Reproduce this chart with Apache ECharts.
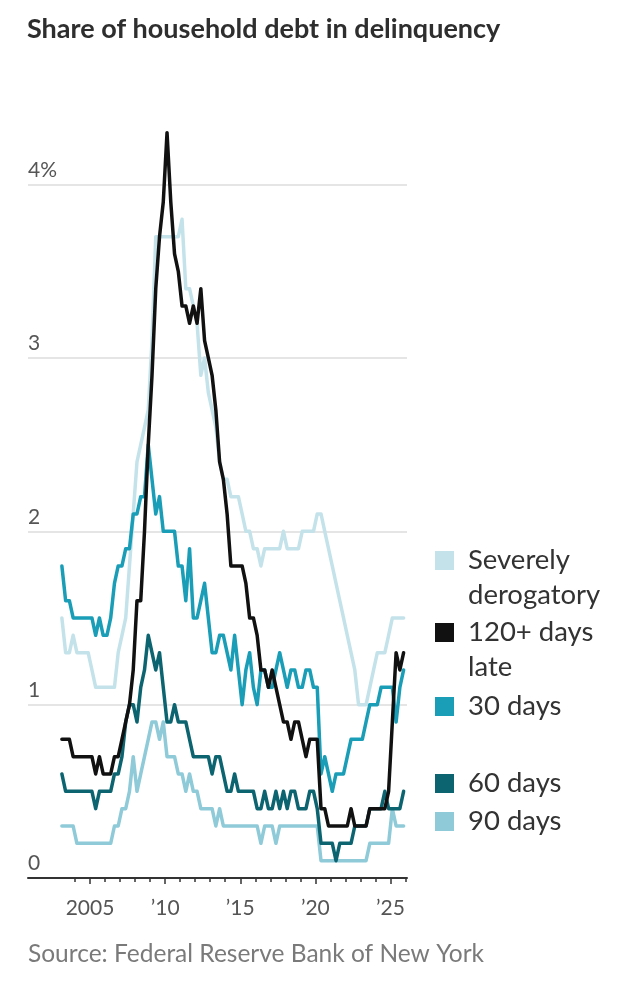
<!DOCTYPE html>
<html lang="en">
<head>
<meta charset="utf-8">
<title>Share of household debt in delinquency</title>
<script src="https://cdn.jsdelivr.net/npm/echarts@6/dist/echarts.min.js"></script>
<style>
  html, body { margin: 0; padding: 0; background: #fff; }
  #chart { width: 630px; height: 984px; }
</style>
</head>
<body>
<div id="chart"></div>
<script>
// quarterly data, 2003Q1 .. 2025Q4, percent of balance
var startYear = 2003;
var quarters = [];
for (var y = startYear; y <= 2025; y++) {
  for (var q = 1; q <= 4; q++) quarters.push(y + 'Q' + q);
}

var severelyDerogatory = [
  1.5, 1.3, 1.3, 1.4, 1.3, 1.3, 1.3, 1.3, 1.2, 1.1, 1.1, 1.1, 1.1, 1.1, 1.1, 1.3,
  1.4, 1.5, 1.8, 2.1, 2.4, 2.5, 2.6, 2.7, 3.1, 3.7, 3.7, 3.7, 3.7, 3.7, 3.7, 3.7,
  3.8, 3.4, 3.4, 3.3, 3.2, 2.9, 3.0, 2.8, 2.7, 2.6, 2.4, 2.3, 2.3, 2.2, 2.2, 2.2,
  2.1, 2.0, 2.0, 1.9, 1.9, 1.8, 1.9, 1.9, 1.9, 1.9, 1.9, 2.0, 1.9, 1.9, 1.9, 1.9,
  2.0, 2.0, 2.0, 2.0, 2.1, 2.1, 2.0, 1.9, 1.8, 1.7, 1.6, 1.5, 1.4, 1.3, 1.2, 1.0,
  1.0, 1.0, 1.1, 1.2, 1.3, 1.3, 1.3, 1.4, 1.5, 1.5, 1.5, 1.5
];
var late120 = [
  0.8, 0.8, 0.8, 0.7, 0.7, 0.7, 0.7, 0.7, 0.7, 0.6, 0.7, 0.6, 0.6, 0.6, 0.7, 0.7,
  0.8, 0.9, 1.0, 1.2, 1.6, 1.6, 2.0, 2.5, 2.9, 3.4, 3.7, 3.9, 4.3, 3.9, 3.6, 3.5,
  3.3, 3.3, 3.2, 3.3, 3.2, 3.4, 3.1, 3.0, 2.9, 2.7, 2.4, 2.3, 2.1, 1.8, 1.8, 1.8,
  1.8, 1.7, 1.5, 1.5, 1.4, 1.2, 1.2, 1.1, 1.2, 1.1, 1.0, 0.9, 0.9, 0.8, 0.9, 0.9,
  0.8, 0.7, 0.8, 0.8, 0.8, 0.4, 0.4, 0.3, 0.3, 0.3, 0.3, 0.3, 0.3, 0.4, 0.3, 0.3,
  0.3, 0.3, 0.4, 0.4, 0.4, 0.4, 0.4, 0.5, 0.9, 1.3, 1.2, 1.3
];
var days30 = [
  1.8, 1.6, 1.6, 1.5, 1.5, 1.5, 1.5, 1.5, 1.5, 1.4, 1.5, 1.4, 1.4, 1.5, 1.7, 1.8,
  1.8, 1.9, 1.9, 2.1, 2.1, 2.2, 2.2, 2.5, 2.3, 2.1, 2.2, 2.0, 2.0, 2.0, 2.0, 1.8,
  1.8, 1.6, 1.9, 1.5, 1.5, 1.6, 1.7, 1.5, 1.3, 1.3, 1.4, 1.4, 1.3, 1.2, 1.4, 1.2,
  1.0, 1.2, 1.3, 1.1, 1.0, 1.2, 1.2, 1.1, 1.1, 1.2, 1.3, 1.2, 1.1, 1.2, 1.2, 1.1,
  1.1, 1.2, 1.2, 1.1, 1.1, 0.6, 0.7, 0.6, 0.5, 0.6, 0.6, 0.6, 0.7, 0.8, 0.8, 0.8,
  0.8, 0.9, 1.0, 1.0, 1.0, 1.1, 1.1, 1.1, 1.1, 0.9, 1.1, 1.2
];
var days60 = [
  0.6, 0.5, 0.5, 0.5, 0.5, 0.5, 0.5, 0.5, 0.5, 0.4, 0.5, 0.5, 0.5, 0.5, 0.6, 0.6,
  0.7, 0.9, 1.0, 1.0, 0.9, 1.1, 1.2, 1.4, 1.3, 1.2, 1.3, 1.1, 0.9, 0.9, 1.0, 0.9,
  0.9, 0.9, 0.8, 0.7, 0.7, 0.7, 0.7, 0.7, 0.6, 0.7, 0.7, 0.6, 0.5, 0.5, 0.6, 0.5,
  0.5, 0.5, 0.5, 0.5, 0.4, 0.4, 0.5, 0.4, 0.4, 0.5, 0.4, 0.5, 0.4, 0.5, 0.5, 0.4,
  0.4, 0.4, 0.5, 0.5, 0.4, 0.2, 0.2, 0.2, 0.2, 0.1, 0.2, 0.2, 0.2, 0.2, 0.3, 0.3,
  0.3, 0.3, 0.4, 0.4, 0.4, 0.4, 0.5, 0.4, 0.4, 0.4, 0.4, 0.5
];
var days90 = [
  0.3, 0.3, 0.3, 0.3, 0.2, 0.2, 0.2, 0.2, 0.2, 0.2, 0.2, 0.2, 0.2, 0.2, 0.3, 0.3,
  0.4, 0.4, 0.5, 0.7, 0.5, 0.6, 0.7, 0.8, 0.9, 0.9, 0.8, 0.9, 0.7, 0.7, 0.7, 0.6,
  0.6, 0.5, 0.6, 0.5, 0.5, 0.4, 0.4, 0.4, 0.4, 0.3, 0.4, 0.3, 0.3, 0.3, 0.3, 0.3,
  0.3, 0.3, 0.3, 0.3, 0.3, 0.2, 0.3, 0.3, 0.3, 0.2, 0.3, 0.3, 0.3, 0.3, 0.3, 0.3,
  0.3, 0.3, 0.3, 0.3, 0.3, 0.1, 0.1, 0.1, 0.1, 0.1, 0.1, 0.1, 0.1, 0.1, 0.1, 0.1,
  0.1, 0.1, 0.2, 0.2, 0.2, 0.2, 0.2, 0.2, 0.4, 0.3, 0.3, 0.3
];

var yTicks = [0, 1, 2, 3, 4];
var majorYears = [2005, 2010, 2015, 2020, 2025];
var minorYears = [];
for (var yr = 2004; yr <= 2026; yr++) minorYears.push(yr);

var seriesList = [
  { name: 'Severely derogatory', color: '#c4e2ea', data: severelyDerogatory },
  { name: '90 days', color: '#8ecad8', data: days90 },
  { name: '60 days', color: '#0d6471', data: days60 },
  { name: '30 days', color: '#1a9db7', data: days30 },
  { name: '120+ days late', color: '#111111', data: late120 }
];

// middle of each quarter on a decimal-year axis
function quarterX(label) {
  var parts = label.split('Q');
  return +parts[0] + (+parts[1] - 0.5) / 4;
}

var font = 'Lato, "Noto Sans", sans-serif';
var legendFont = '27.5px ' + font;
var myChart = echarts.init(document.getElementById('chart'), null, { renderer: 'canvas' });

var option = {
  backgroundColor: '#fff',
  animation: false,
  title: [{
    text: 'Share of household debt in delinquency',
    left: 27, top: 16, padding: 0,
    textStyle: { fontFamily: font, fontWeight: 'bold', fontSize: 27, color: '#2e2e2e' }
  }, {
    text: 'Source: Federal Reserve Bank of New York',
    left: 28, top: 942, padding: 0,
    textStyle: { fontFamily: font, fontWeight: 'normal', fontSize: 24.5, color: '#7a7a7a' }
  }],
  grid: { left: 28, right: 223, top: 115.3, bottom: 106 },
  xAxis: [{
    type: 'value',
    min: 2000.87,
    max: 2026.1,
    axisLine: { show: true, lineStyle: { color: '#333', width: 2 } },
    axisTick: { show: true, customValues: majorYears, length: 6, lineStyle: { color: '#333', width: 1.5 } },
    axisLabel: {
      customValues: majorYears,
      margin: 20,
      fontFamily: font, fontSize: 21, color: '#555',
      formatter: function (v) { return v === 2005 ? '2005' : '\u2019' + String(v).slice(2); }
    },
    splitLine: { show: false }
  }, {
    type: 'value',
    min: 2000.87,
    max: 2026.1,
    position: 'bottom',
    axisLine: { show: false },
    axisTick: { show: true, customValues: minorYears, length: 4, lineStyle: { color: '#333', width: 1.5 } },
    axisLabel: { show: false },
    splitLine: { show: false }
  }],
  yAxis: {
    type: 'value',
    min: 0,
    max: 4.4,
    interval: 1,
    axisLine: { show: false },
    axisTick: { show: false },
    axisLabel: {
      inside: true,
      margin: 0,
      customValues: yTicks,
      verticalAlign: 'bottom',
      padding: [0, 0, 4, 0],
      fontFamily: font, fontSize: 21, color: '#555',
      formatter: function (v) { return v === 4 ? '4%' : String(v); }
    },
    splitLine: { show: true, showMaxLine: false, lineStyle: { color: '#dcdcdc', width: 1.5 } }
  },
  series: seriesList.map(function (s) {
    return {
      name: s.name,
      type: 'line',
      xAxisIndex: 0,
      showSymbol: false,
      silent: true,
      lineStyle: { color: s.color, width: 3.5, cap: 'round', join: 'round' },
      itemStyle: { color: s.color },
      data: s.data.map(function (v, i) { return [quarterX(quarters[i]), v]; })
    };
  }),
  graphic: [
    { type: 'rect', left: 435, top: 551, shape: { width: 19, height: 19 }, style: { fill: '#c4e2ea' } },
    { type: 'text', left: 468, top: 543, style: { text: 'Severely\nderogatory', font: legendFont, fill: '#333', lineHeight: 35 } },
    { type: 'rect', left: 435, top: 623, shape: { width: 19, height: 19 }, style: { fill: '#111111' } },
    { type: 'text', left: 468, top: 615, style: { text: '120+ days\nlate', font: legendFont, fill: '#333', lineHeight: 35 } },
    { type: 'rect', left: 435, top: 697, shape: { width: 19, height: 19 }, style: { fill: '#1a9db7' } },
    { type: 'text', left: 468, top: 689, style: { text: '30 days', font: legendFont, fill: '#333', lineHeight: 35 } },
    { type: 'rect', left: 435, top: 774, shape: { width: 19, height: 19 }, style: { fill: '#0d6471' } },
    { type: 'text', left: 468, top: 766, style: { text: '60 days', font: legendFont, fill: '#333', lineHeight: 35 } },
    { type: 'rect', left: 435, top: 812, shape: { width: 19, height: 19 }, style: { fill: '#8ecad8' } },
    { type: 'text', left: 468, top: 804, style: { text: '90 days', font: legendFont, fill: '#333', lineHeight: 35 } }
  ]
};
myChart.setOption(option);
</script>
</body>
</html>
